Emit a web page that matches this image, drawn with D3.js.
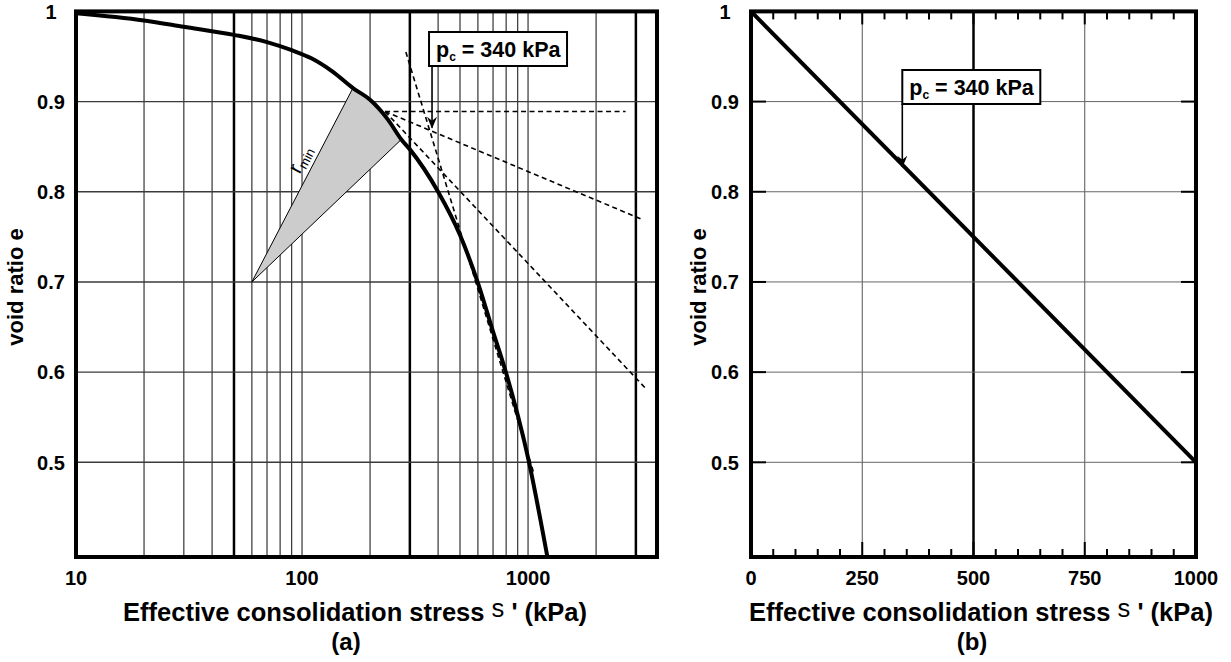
<!DOCTYPE html>
<html><head><meta charset="utf-8">
<script src="https://cdn.jsdelivr.net/npm/d3@7"></script>
<style>
body{margin:0;background:#fff}
text{font-family:"Liberation Sans",Arial,Helvetica,sans-serif;font-weight:bold;fill:#000}
</style>
</head><body>
<svg id="chart" width="1231" height="662"></svg>
<script>
// ---------- data ----------
const curveStress = [10,20,30,50,70,90,110,137,168,200,240,275,300,400,500,600,700,800,1000,1220];
const curveVoid   = [0.998,0.990,0.983,0.974,0.966,0.957,0.948,0.933,0.915,0.902,0.880,0.858,0.847,0.800,0.752,0.699,0.645,0.599,0.505,0.394];
const rminApex = [60, 0.70];
const rminRange = [168, 275];
const horizontalLine = [[233,0.889],[2700,0.889]];
const tangentLine    = [[233,0.889],[3150,0.770]];
const lowerLine      = [[233,0.889],[3340,0.581]];
const virginLine     = [[288,0.955],[1060,0.488]];
const pcValue = 340;
const pcArrowLog = [376, 0.871];
const logTicks = [10,100,1000];
const logGrid = [20,30,40,50,60,70,80,90,100,200,300,400,500,600,700,800,900,1000,2000,3000];
const logGridBold = [50,300,3000];
const yTicks = [1,0.9,0.8,0.7,0.6,0.5];
const yGrid = [0.9,0.8,0.7,0.6,0.5];
const linStress = [0,1000];
const linVoid = [1.0,0.5];
const linTicks = [0,250,500,750,1000];
const linMinor = d3.range(0,1001,50);
const linGridBold = [500];

const svg = d3.select("#chart");
const yTop = 11.4, yBot = 557;
const y = d3.scaleLinear().domain([0.395,1]).range([yBot,yTop]);
const xL = d3.scaleLog().domain([10,3720]).range([76,657]);
const xR = d3.scaleLinear().domain([0,1000]).range([751,1196]);

// defs: arrow
svg.append("defs").append("marker").attr("id","arr")
  .attr("viewBox","0 0 12 12").attr("refX",11).attr("refY",6)
  .attr("markerWidth",12).attr("markerHeight",12).attr("markerUnits","userSpaceOnUse")
  .attr("orient","auto")
  .append("path").attr("d","M0,1 L12,6 L0,11 L4,6 Z").attr("fill","#000");

// ================= LEFT PANEL =================
const gL = svg.append("g");
gL.selectAll(".vg").data(logGrid).join("line")
  .attr("x1",d=>xL(d)).attr("x2",d=>xL(d)).attr("y1",yTop).attr("y2",yBot)
  .attr("stroke",d=>logGridBold.includes(d)?"#000":"#222")
  .attr("stroke-width",d=>logGridBold.includes(d)?2.5:1.1);
gL.selectAll(".hg").data(yGrid).join("line")
  .attr("x1",xL.range()[0]).attr("x2",xL.range()[1]).attr("y1",d=>y(d)).attr("y2",d=>y(d))
  .attr("stroke","#3a3a3a").attr("stroke-width",1.4);

// r_min shaded region
const curvePts = curveStress.map((s,i)=>[s,curveVoid[i]]);
const arcPts = curvePts.filter(p=>p[0]>=rminRange[0] && p[0]<=rminRange[1]);
const poly = [rminApex, ...arcPts];
gL.append("path")
  .attr("d", d3.line().x(p=>xL(p[0])).y(p=>y(p[1]))(poly)+"Z")
  .attr("fill","#cccccc").attr("stroke","none");
[arcPts[0], arcPts[arcPts.length-1]].forEach(p=>{
  gL.append("line").attr("x1",xL(rminApex[0])).attr("y1",y(rminApex[1]))
    .attr("x2",xL(p[0])).attr("y2",y(p[1])).attr("stroke","#000").attr("stroke-width",1);
});
// r_min label
{
  const ax=xL(rminApex[0]), ay=y(rminApex[1]);
  const bx=xL(arcPts[0][0]), by=y(arcPts[0][1]);
  const th = Math.atan2(by-ay,bx-ax);
  const ang = th*180/Math.PI;
  const t=0.6, off=7;
  const px = ax+(bx-ax)*t + Math.sin(th)*off, py = ay+(by-ay)*t - Math.cos(th)*off;
  const lab = gL.append("text").attr("transform",`translate(${px},${py}) rotate(${ang})`)
    .attr("text-anchor","middle").style("font-weight","normal").style("font-size","21px");
  lab.append("tspan").text("r");
  lab.append("tspan").text("min").style("font-size","13px").attr("dy",3);
}

// dashed construction lines
const dl = d3.line().x(p=>xL(p[0])).y(p=>y(p[1]));
[horizontalLine,tangentLine,lowerLine,virginLine].forEach(L=>{
  gL.append("path").attr("d",dl(L)).attr("fill","none").attr("stroke","#000")
    .attr("stroke-width",1.6).attr("stroke-dasharray","5,3.5");
});

// main curve
svg.append("clipPath").attr("id","clipL").append("rect")
  .attr("x",76).attr("y",yTop).attr("width",581).attr("height",yBot-yTop);
gL.append("path").attr("clip-path","url(#clipL)")
  .attr("d", d3.line().x(p=>xL(p[0])).y(p=>y(p[1])).curve(d3.curveMonotoneX)(curvePts))
  .attr("fill","none").attr("stroke","#000").attr("stroke-width",4);

// border
gL.append("rect").attr("x",76).attr("y",yTop).attr("width",581).attr("height",yBot-yTop)
  .attr("fill","none").attr("stroke","#000").attr("stroke-width",4);

// tick labels
gL.selectAll(".xt").data(logTicks).join("text")
  .attr("x",d=>xL(d)).attr("y",585).attr("text-anchor","middle").style("font-size","20px")
  .text(d=>d);
gL.selectAll(".yt").data(yTicks).join("text")
  .attr("x",51).attr("y",d=>y(d)).attr("dy","0.36em").attr("text-anchor","middle").style("font-size","20px")
  .text(d=>d);

// pc annotation
function pcBox(g, ax, top, label){
  const bx = ax-3, by = top, w = 138, h = 34;
  g.append("rect").attr("x",bx).attr("y",by).attr("width",w).attr("height",h)
    .attr("fill","#fff").attr("stroke","#000").attr("stroke-width",2);
  const t = g.append("text").attr("x",bx+7).attr("y",by+25).style("font-size","21.5px");
  t.append("tspan").text("p");
  t.append("tspan").text("c").style("font-size","12px").attr("dy",4);
  t.append("tspan").text(" = "+label).attr("dy",-4);
}
pcBox(gL, xL(pcArrowLog[0]), 32, pcValue+" kPa");
gL.append("line").attr("x1",xL(pcArrowLog[0])).attr("x2",xL(pcArrowLog[0]))
  .attr("y1",66).attr("y2",y(pcArrowLog[1])).attr("stroke","#000").attr("stroke-width",1.6)
  .attr("marker-end","url(#arr)");

// axis titles
function xTitle(g, cx, sub){
  const t = g.append("text").attr("x",cx).attr("y",621).attr("text-anchor","middle").style("font-size","25.5px");
  t.append("tspan").text("Effective consolidation stress ");
  t.append("tspan").text("s").style("font-weight","normal").attr("dy",-4);
  t.append("tspan").text(" ' (kPa)").attr("dy",4);
  g.append("text").attr("x",cx-9).attr("y",650).attr("text-anchor","middle").style("font-size","24px").text(sub);
}
function yTitle(g, x, cy){
  g.append("text").attr("transform",`translate(${x},${cy}) rotate(-90)`)
    .attr("text-anchor","middle").style("font-size","22px").text("void ratio e");
}
xTitle(gL, 355, "(a)");
yTitle(gL, 23, 287);

// ================= RIGHT PANEL =================
const gR = svg.append("g");
const xr0 = xR.range()[0], xr1 = xR.range()[1];
gR.selectAll(".vg").data(linTicks.slice(1,-1)).join("line")
  .attr("x1",d=>xR(d)).attr("x2",d=>xR(d)).attr("y1",yTop).attr("y2",yBot)
  .attr("stroke",d=>linGridBold.includes(d)?"#000":"#555")
  .attr("stroke-width",d=>linGridBold.includes(d)?2.5:1);
gR.selectAll(".hg").data(yGrid).join("line")
  .attr("x1",xr0).attr("x2",xr1).attr("y1",d=>y(d)).attr("y2",d=>y(d))
  .attr("stroke","#666").attr("stroke-width",1);
const isMajor = d=>linTicks.includes(d);
gR.selectAll(".tb").data(linMinor).join("line")
  .attr("x1",d=>xR(d)).attr("x2",d=>xR(d)).attr("y1",yBot).attr("y2",d=>yBot-(isMajor(d)?15:8))
  .attr("stroke","#000").attr("stroke-width",2);
gR.selectAll(".tt").data(linMinor).join("line")
  .attr("x1",d=>xR(d)).attr("x2",d=>xR(d)).attr("y1",yTop).attr("y2",d=>yTop+(isMajor(d)?13:8))
  .attr("stroke","#000").attr("stroke-width",2);
gR.selectAll(".tl").data(yGrid).join("line")
  .attr("x1",xr0).attr("x2",xr0+15).attr("y1",d=>y(d)).attr("y2",d=>y(d))
  .attr("stroke","#000").attr("stroke-width",2);
gR.selectAll(".tr").data(yGrid).join("line")
  .attr("x1",xr1).attr("x2",xr1-15).attr("y1",d=>y(d)).attr("y2",d=>y(d))
  .attr("stroke","#000").attr("stroke-width",2);
gR.append("path")
  .attr("d", d3.line().x(p=>xR(p[0])).y(p=>y(p[1]))(linStress.map((s,i)=>[s,linVoid[i]])))
  .attr("fill","none").attr("stroke","#000").attr("stroke-width",4);
gR.append("rect").attr("x",xr0).attr("y",yTop).attr("width",xr1-xr0).attr("height",yBot-yTop)
  .attr("fill","none").attr("stroke","#000").attr("stroke-width",4);
gR.selectAll(".xt").data(linTicks).join("text")
  .attr("x",d=>xR(d)).attr("y",585).attr("text-anchor","middle").style("font-size","20px").text(d=>d);
gR.selectAll(".yt").data(yTicks).join("text")
  .attr("x",725).attr("y",d=>y(d)).attr("dy","0.36em").attr("text-anchor","middle").style("font-size","20px")
  .text(d=>d);
const linInterp = d3.scaleLinear().domain(linStress).range(linVoid);
pcBox(gR, xR(pcValue)+3, 70, pcValue+" kPa");
gR.append("line").attr("x1",xR(pcValue)).attr("x2",xR(pcValue))
  .attr("y1",104).attr("y2",y(linInterp(pcValue))+2).attr("stroke","#000").attr("stroke-width",1.6)
  .attr("marker-end","url(#arr)");
xTitle(gR, 981, "(b)");
yTitle(gR, 706, 287);
</script>
</body></html>
